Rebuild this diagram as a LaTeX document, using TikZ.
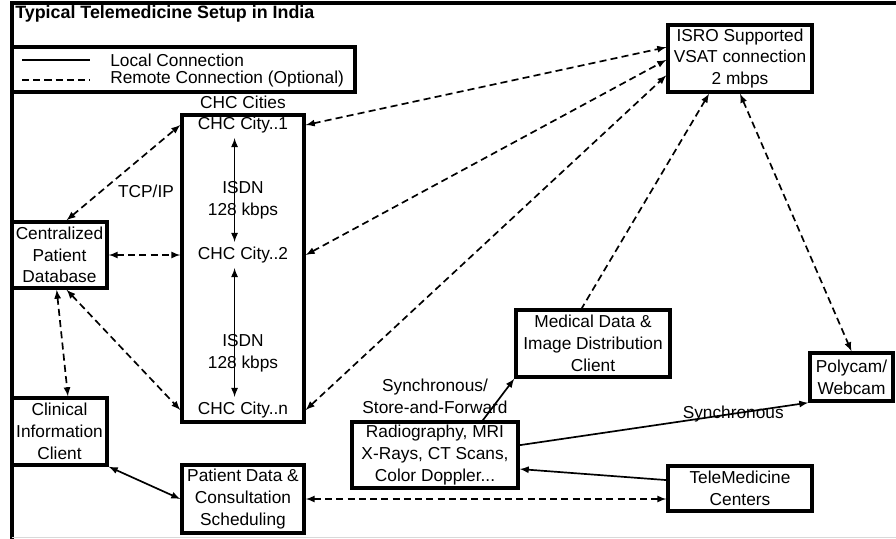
\documentclass[tikz,border=0pt]{standalone}
\usepackage{fontspec}
\setmainfont{Liberation Sans}
\usetikzlibrary{positioning}

\tikzset{
	box/.style={draw, line width=2.4pt, align=center, inner sep=1pt},
	remote/.style={<->, >=latex, line width=1.2pt, dash pattern=on 5pt off 3pt},
	local/.style={<->, >=latex, line width=1.2pt}
}

\begin{document}
\begin{tikzpicture}[x=0.025cm, y=-0.025cm, font=\fontsize{12.3}{15.5}\selectfont]

	\useasboundingbox (0,0) rectangle (896,539);
	% Frame %
	\draw [line width=2.2pt] (896,3) -- (12,3) -- (12,539);
	\draw [gray!30] (12,537) -- (896,537);
	\node [anchor=west, inner sep=0pt, font=\fontsize{12.7}{15}\selectfont\bfseries] (title) at (15,14) {Typical Telemedicine Setup in India};
	% Legend %
	\draw [line width=2.4pt] (12,47) rectangle (355,92);
	\draw [line width=1.2pt] (22,60) -- (90,60);
	\draw [line width=1.2pt, dash pattern=on 5pt off 3pt] (22,80) -- (90,80);
	\node [anchor=west, inner sep=0pt] (locallabel) at (110,60) {Local Connection};
	\node [anchor=west, inner sep=0pt] (remotelabel) at (110,79) {Remote Connection (Optional)};
	% CHC Cities %
	\node [box, minimum width=3.05cm, minimum height=7.675cm] (chc) at (243,268.5) {};
	\node [above=0pt of chc] (chclabel) {CHC Cities};
	\node (city1) at (243,125) {CHC City..1};
	\node (city2) at (243,255) {CHC City..2};
	\node (cityn) at (243,410) {CHC City..n};
	\node [align=center] (isdn1) at (243,200) {ISDN\\128 kbps};
	\node [align=center] (isdn2) at (243,353) {ISDN\\128 kbps};
	\draw [local] ([xshift=-6pt]city1.south) -- ([xshift=-6pt]city2.north);
	\draw [local] ([xshift=-6pt]city2.south) -- ([xshift=-6pt]cityn.north);
	% Boxes %
	\node [box, minimum width=3.6cm, minimum height=1.675cm] (isro) at (740,58.5) {ISRO Supported\\VSAT connection\\2 mbps};
	\node [box, minimum width=2.375cm, minimum height=1.65cm] (db) at (59.5,255) {Centralized\\Patient\\Database};
	\node [box, minimum width=2.375cm, minimum height=1.675cm] (clin) at (59.5,431.5) {Clinical\\Information\\Client};
	\node [box, minimum width=3.05cm, minimum height=1.7cm] (pd) at (243,499) {Patient Data \&\\Consultation\\Scheduling};
	\node [box, minimum width=4.15cm, minimum height=1.65cm] (rad) at (435,455) {Radiography, MRI\\X-Rays, CT Scans,\\Color Doppler...};
	\node [box, minimum width=3.85cm, minimum height=1.675cm] (med) at (593,343.5) {Medical Data \&\\Image Distribution\\Client};
	\node [box, minimum width=2.075cm, minimum height=1.2cm] (poly) at (851.5,377) {Polycam/\\Webcam};
	\node [box, minimum width=3.6cm, minimum height=1.125cm] (tele) at (740,488.5) {TeleMedicine\\Centers};
	\node [above=1pt of rad, align=center] (syncnote) {Synchronous/\\Store-and-Forward};
	\node (tcp) at (146,191) {TCP/IP};
	% Remote Links %
	\draw [remote] (city1 -| chc.east) -- ([yshift=8pt]isro.west);
	\draw [remote] (city2 -| chc.east) -- ([yshift=-1pt]isro.west);
	\draw [remote] (cityn -| chc.east) -- ([yshift=-12pt]isro.west);
	\draw [remote, <-] ([xshift=-22pt]isro.south) -- ([xshift=-8pt]med.north);
	\draw [remote] (isro.south) -- (poly.north);
	\draw [remote] ([xshift=5pt]db.north) -- (city1 -| chc.west);
	\draw [remote] (db.east) -- (city2 -| chc.west);
	\draw [remote] ([xshift=5pt]db.south) -- (cityn -| chc.west);
	\draw [remote] ([xshift=-2pt]db.south) -- ([xshift=6pt]clin.north);
	\draw [remote] (pd.east) -- (pd.east -| tele.west);
	% Local Links %
	\draw [local] (clin.south east) -- (pd.west);
	\draw [local, <-] ([yshift=-10pt]rad.east) -- ([yshift=6pt]tele.west);
	\draw [local, ->] ([yshift=7pt]rad.east) -- (poly.south west) node [pos=0.74] (synclabel) {Synchronous};
	\draw [local, ->] ([xshift=34pt]rad.north) -- (med.south west);
\end{tikzpicture}
\end{document}
